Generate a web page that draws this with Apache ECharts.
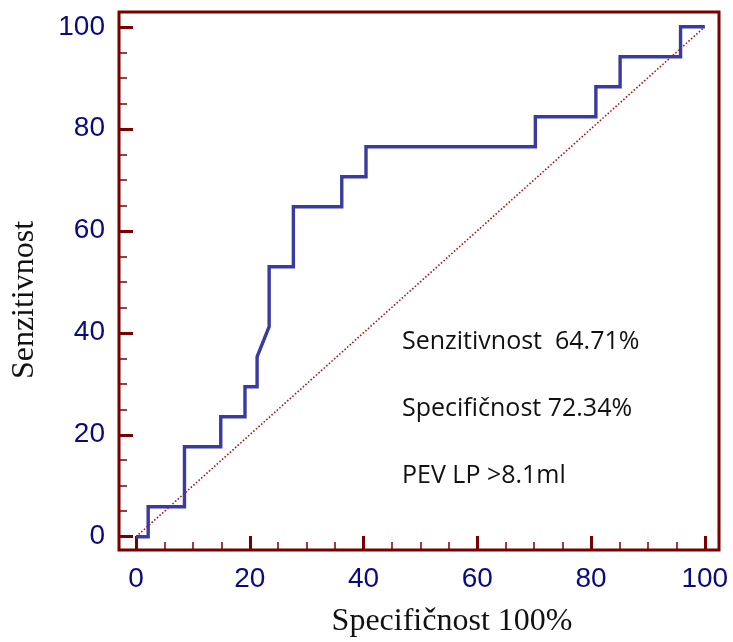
<!DOCTYPE html>
<html>
<head>
<meta charset="utf-8">
<script src="https://cdn.jsdelivr.net/npm/echarts@6/dist/echarts.min.js"></script>
<style>html,body{margin:0;padding:0;background:#fff}#c{width:733px;height:642px}</style>
</head>
<body>
<div id="c"></div>
<script>
// ROC curve points (1 - specificity %, sensitivity %)
const rocX = [0, 2.13, 2.13, 8.51, 8.51, 14.89, 14.89, 19.15, 19.15, 21.28, 21.28, 23.40, 23.40, 27.66, 27.66, 36.17, 36.17, 40.43, 40.43, 70.21, 70.21, 80.85, 80.85, 85.11, 85.11, 95.74, 95.74, 100];
const rocY = [0, 0, 5.88, 5.88, 17.65, 17.65, 23.53, 23.53, 29.41, 29.41, 35.29, 41.18, 52.94, 52.94, 64.71, 64.71, 70.59, 70.59, 76.47, 76.47, 82.35, 82.35, 88.24, 88.24, 94.12, 94.12, 100, 100];
// reference (chance) diagonal
const refX = [0, 100];
const refY = [0, 100];
// tick values
const majorTicks = [0, 20, 40, 60, 80, 100];
const minorTicks = [5, 10, 15, 25, 30, 35, 45, 50, 55, 65, 70, 75, 85, 90, 95];
// axis extents (frame padding around 0..100)
const xMin = -3, xMax = 102.5;
const yMin = -2.6, yMax = 102.9;
// texts
const xTitle = 'Specifičnost 100%';
const yTitle = 'Senzitivnost';
const annotations = ['Senzitivnost  64.71%', 'Specifičnost 72.34%', 'PEV LP >8.1ml'];

const zip = (a, b) => a.map((v, i) => [v, b[i]]);
const frameColor = '#7a0000';
const labelColor = '#0a0a80';
const labelFont = '"Liberation Sans", Arial, sans-serif';

function majorAxis(min, max, pos, margin) {
  return {
    type: 'value', min: min, max: max, position: pos,
    axisLine: {show: false, onZero: false},
    axisTick: {show: true, inside: true, length: 14, customValues: majorTicks, lineStyle: {color: frameColor, width: 3}},
    splitLine: {show: false},
    axisLabel: {color: labelColor, fontSize: 28, fontFamily: labelFont, margin: margin, customValues: majorTicks}
  };
}
function minorAxis(min, max, pos) {
  return {
    type: 'value', min: min, max: max, position: pos,
    axisLine: {show: false, onZero: false},
    axisTick: {show: true, inside: true, length: 8, customValues: minorTicks, lineStyle: {color: frameColor, width: 1.5}},
    splitLine: {show: false},
    axisLabel: {show: false}
  };
}

const chart = echarts.init(document.getElementById('c'), null, {renderer: 'canvas'});
const annY = [342, 409, 476];
chart.setOption({
  animation: false,
  backgroundColor: '#ffffff',
  grid: {left: 119, right: 14, top: 12, bottom: 92, show: true, borderColor: frameColor, borderWidth: 3, backgroundColor: 'transparent'},
  xAxis: [majorAxis(xMin, xMax, 'bottom', 15), minorAxis(xMin, xMax, 'bottom')],
  yAxis: [majorAxis(yMin, yMax, 'left', 14), minorAxis(yMin, yMax, 'left')],
  series: [
    {
      type: 'line', xAxisIndex: 0, yAxisIndex: 0, data: zip(refX, refY),
      symbol: 'none', silent: true,
      lineStyle: {color: '#a01010', width: 1.6, type: [1.5, 2]}
    },
    {
      type: 'line', xAxisIndex: 0, yAxisIndex: 0, data: zip(rocX, rocY),
      symbol: 'none', silent: true,
      lineStyle: {color: '#3a3a9f', width: 3.4, join: 'miter'}
    }
  ],
  graphic: [
    {type: 'text', x: 452, y: 622, style: {text: xTitle, fill: '#111', font: '32px "Liberation Serif", "Times New Roman", serif', align: 'center', verticalAlign: 'middle'}},
    {type: 'text', x: 25, y: 300, rotation: Math.PI / 2, style: {text: yTitle, fill: '#111', font: '32px "Liberation Serif", "Times New Roman", serif', align: 'center', verticalAlign: 'middle'}}
  ].concat(annotations.map((t, i) => ({
    type: 'text', x: 402, y: annY[i],
    style: {text: t, fill: '#111', font: '25px "Open Sans", sans-serif', align: 'left', verticalAlign: 'middle'}
  })))
});
</script>
</body>
</html>
